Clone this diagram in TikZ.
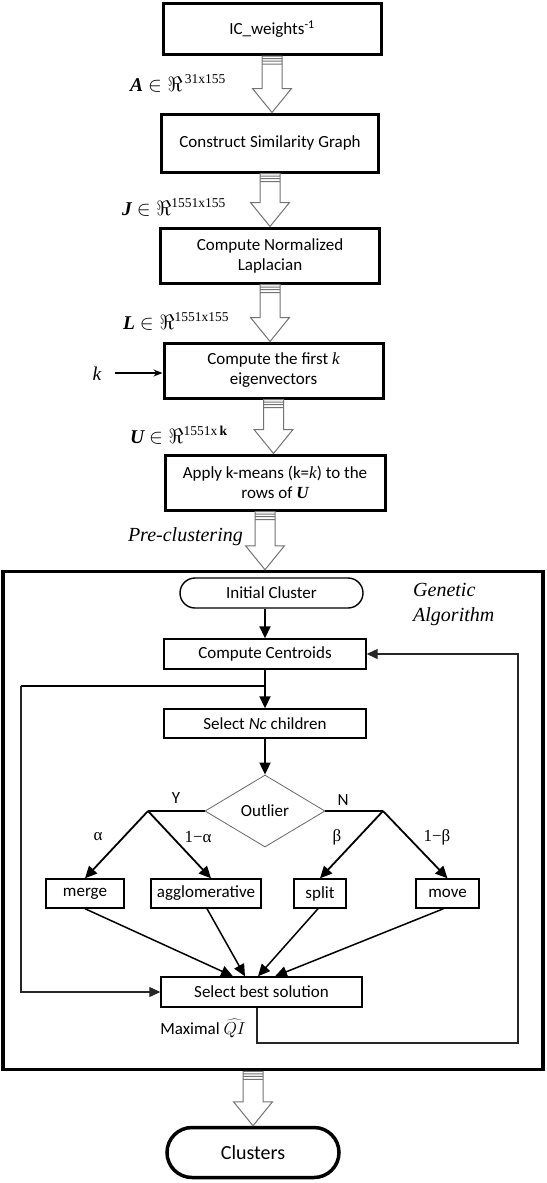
\documentclass[tikz,border=0pt]{standalone}
\usepackage{bm}
\usepackage{fontspec}
\setmainfont{Liberation Serif}
\newfontfamily\carl{Carlito}
\usetikzlibrary{calc,arrows.meta,shapes.geometric}
\newcommand\supsz[1]{^{\hbox{\fontsize{13.5}{14}\selectfont\rmfamily #1}}}
\tikzset{
 topbox/.style={draw, line width=3pt, font=\carl\fontsize{17}{20}\selectfont, align=center, inner sep=0pt},
 gabox/.style={draw, line width=1.4pt, font=\carl\fontsize{17}{20}\selectfont, align=center, inner sep=0pt, minimum height=30pt},
 lbl/.style={font=\fontsize{19.5}{21}\selectfont, inner sep=0pt},
 small/.style={font=\rmfamily\fontsize{17}{20}\selectfont, inner sep=0pt},
 conn/.style={line width=1.8pt, -{Triangle[length=12pt,width=11pt]}},
 inconn/.style={line width=1.5pt, -{Triangle[length=12pt,width=11pt]}},
 fb/.style={line width=1.2pt, draw=black!85, -{Triangle[length=11pt,width=10pt]}},
 harrow/.style={draw=black!55, line width=1pt, fill=white},
}
\newcommand\hollow[2]{%
 \draw[harrow] let \p1=(#1), \p2=(#2) in
 (\x1-10pt,\y1) -- (\x1+10pt,\y1) -- (\x1+10pt,\y2+24pt) -- (\x1+19.5pt,\y2+24pt) -- (\x1,\y2)
 -- (\x1-19.5pt,\y2+24pt) -- (\x1-10pt,\y2+24pt) -- cycle
 (\x1-10pt,\y1-2.5pt) -- (\x1+10pt,\y1-2.5pt)
 (\x1-10pt,\y1-5pt) -- (\x1+10pt,\y1-5pt)
 (\x1-10pt,\y1-8pt) -- (\x1+10pt,\y1-8pt);}
\begin{document}
\begin{tikzpicture}[x=1pt,y=-1pt]
\useasboundingbox (0,0) rectangle (546,1183);
% top pipeline
\node[topbox, minimum width=218pt, minimum height=51pt] (b1) at (272,29) {IC\_weights\textsuperscript{-1}};
\node[topbox, minimum width=217pt, minimum height=58pt] (b2) at (270,143) {Construct Similarity Graph};
\node[topbox, minimum width=219pt, minimum height=55pt] (b3) at (270,255.5) {Compute Normalized\\Laplacian};
\node[topbox, minimum width=219pt, minimum height=55pt] (b4) at (273.5,370.5) {Compute the first {\rmfamily\itshape k}\\eigenvectors};
\node[topbox, minimum width=220pt, minimum height=55pt] (b5) at (275,482.5) {Apply k-means (k={\rmfamily\itshape k}) to the\\rows of {\rmfamily\bfseries\itshape U}};

\hollow{b1.south}{b2.north}
\hollow{b2.south}{b3.north}
\hollow{b3.south}{b4.north}
\hollow{b4.south}{b5.north}

\node[lbl, anchor=base west] (la) at (130,91) {{\bfseries\itshape A} $\in \Re\supsz{\,31x155}$};
\node[lbl, anchor=base west] (lj) at (122,215) {{\bfseries\itshape J} $\in \Re\supsz{1551x155}$};
\node[lbl, anchor=base west] (ll) at (123,329) {{\bfseries\itshape L} $\in \Re\supsz{1551x155}$};
\node[lbl, anchor=base west] (lu) at (130,443) {{\bfseries\itshape U} $\in \Re\supsz{1551x\,\bfseries k}$};
\node[lbl, anchor=base] (kl) at (97,380) {\itshape k};
\coordinate (ks) at (115,373);
\draw[line width=1.2pt, -{Stealth[length=9pt,width=7pt]}] (ks) -- (b4.west |- ks);

% GA box
\node[draw, line width=3.5pt, minimum width=540pt, minimum height=498pt, inner sep=0pt] (ga) at (273,820.5) {};
\hollow{$(b5.south)+(-10,0)$}{ga.north}
\node[font=\fontsize{20}{24}\selectfont\itshape, anchor=base east, inner sep=0pt] (pre) at (243,541) {Pre-clustering};
\node[font=\fontsize{20}{25}\selectfont\itshape, anchor=north west, align=left, inner sep=0pt] (gal) at (413,583) {Genetic\\Algorithm};

\node[gabox, minimum width=183pt, rounded corners=15pt] (ic) at (271.5,593) {Initial Cluster};
\node[gabox, minimum width=202pt] (cc) at (265,654) {Compute Centroids};
\node[gabox, minimum width=202pt, minimum height=29pt] (sn) at (265,723.5) {Select {\itshape Nc} children};
\node[draw=black!60, line width=0.8pt, shape=diamond, aspect=1.667, minimum width=120pt, minimum height=72pt, inner sep=0pt, font=\carl\fontsize{17}{20}\selectfont] (out) at (265,811) {Outlier};
\node[gabox, minimum width=78pt, minimum height=29pt] (merge) at (85,893.5) {merge};
\node[gabox, minimum width=110pt, minimum height=29pt] (agg) at (206,893.5) {agglomerative};
\node[gabox, minimum width=52pt, minimum height=29pt] (split) at (320,893.5) {split};
\node[gabox, minimum width=63pt, minimum height=29pt] (move) at (447.5,893.5) {move};
\node[gabox, minimum width=201pt] (sb) at (261.5,992) {Select best solution};

\draw[conn] (cc.north |- ic.south) -- (cc.north);
\draw[conn] (cc.south) -- (sn.north);
\draw[conn] (sn.south) -- (out.north);

\coordinate (yj) at (148,811);
\coordinate (nj) at (383,811);
\draw[line width=1.8pt] (out.west) -- (yj);
\draw[line width=1.8pt] (out.east) -- (nj);
\draw[conn] (yj) -- (merge.north);
\draw[conn] (yj) -- ($(agg.north)+(5,0)$);
\draw[conn] (nj) -- (split.north);
\draw[conn] (nj) -- (move.north);

\node[font=\carl\fontsize{17}{20}\selectfont, inner sep=0pt] (yl) at (176,798) {Y};
\node[font=\carl\fontsize{17}{20}\selectfont, inner sep=0pt] (nl) at (343,800) {N};
\node[small] (al1) at (98,837) {α};
\node[small] (al2) at (198,837) {1−α};
\node[small] (be1) at (337,837) {β};
\node[small] (be2) at (437,837) {1−β};

\draw[inconn] (merge.south) -- ($(sb.north)+(-28.5,0)$);
\draw[inconn] ($(agg.south)+(1,0)$) -- ($(sb.north)+(-16.5,0)$);
\draw[inconn] ($(split.south)+(-2,0)$) -- ($(sb.north)+(-3.5,0)$);
\draw[inconn] ($(move.south)+(-4,0)$) -- ($(sb.north)+(13.5,0)$);

% left loop
\coordinate (j1) at (265,686);
\coordinate (fl) at (21,686);
\draw[line width=1.2pt] (j1) -- (fl);
\draw[fb] (fl) |- (sb.west);
% feedback
\coordinate (fr) at (518,1043);
\draw[fb] ($(sb.south)+(-4.5,0)$) |- (fr) |- (cc.east);
\node[font=\carl\fontsize{17}{20}\selectfont, inner sep=0pt, anchor=base east] (maxl) at (246,1034) {Maximal $\widehat{QI}$};

% output
\node[draw, line width=3.5pt, minimum width=172pt, minimum height=50pt, rounded corners=25pt, font=\carl\fontsize{20}{24}\selectfont] (cl) at (253,1152.5) {Clusters};
\hollow{$(ga.south)+(-20,0)$}{cl.north}
\end{tikzpicture}
\end{document}
